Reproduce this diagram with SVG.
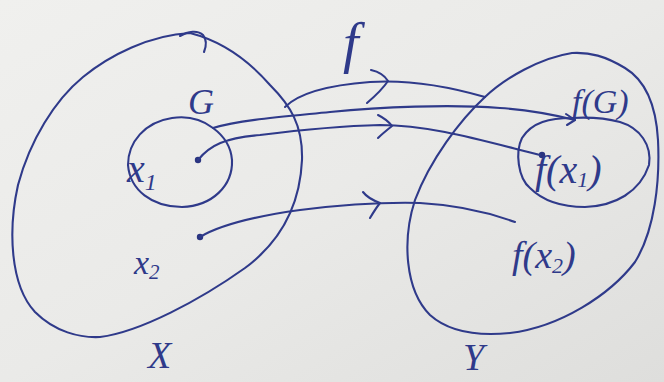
<svg xmlns="http://www.w3.org/2000/svg" width="664" height="382" viewBox="0 0 664 382">
  <defs>
    <linearGradient id="paper" x1="0" y1="0" x2="1" y2="1">
      <stop offset="0" stop-color="#f0f0ee"/>
      <stop offset="0.5" stop-color="#eaeae8"/>
      <stop offset="1" stop-color="#dededc"/>
    </linearGradient>
    <style>
      .ink { fill: none; stroke: #2f3a8a; stroke-width: 2.1; stroke-linecap: round; stroke-linejoin: round; }
      .dot { fill: #2a3480; }
      .lbl { fill: #2f3a8a; font-family: "Liberation Serif", serif; font-style: italic; }
    </style>
  </defs>
  <rect x="0" y="0" width="664" height="382" fill="url(#paper)"/>

  <g id="set-X">
    <path class="ink" d="M190,33 C150,35 110,55 83,77 C55,100 30,140 18,185 C8,230 10,285 35,312 C55,332 80,338 100,337 C140,332 200,300 245,268 C280,242 300,205 302,160 C303,125 290,105 270,85 C250,62 225,42 190,33"/>
    <path class="ink" d="M180,36 C188,31 198,30 203,35 C207,40 206,47 204,52"/>
    <text class="lbl" x="148" y="368" font-size="38">X</text>
  </g>

  <g id="set-G">
    <path class="ink" d="M213,128 C200,118 185,116 172,118 C145,122 128,142 128,165 C130,190 152,207 182,207 C212,206 233,186 232,160 C231,147 224,136 213,128"/>
    <text class="lbl" x="188" y="114" font-size="36">G</text>
  </g>

  <g id="point-x1">
    <circle class="dot" cx="198" cy="160" r="3.2"/>
    <text class="lbl" x="127" y="182" font-size="40">x<tspan font-size="24" dy="8">1</tspan></text>
  </g>

  <g id="point-x2">
    <circle class="dot" cx="200" cy="237" r="3.2"/>
    <text class="lbl" x="134" y="274" font-size="34">x<tspan font-size="21" dy="5">2</tspan></text>
  </g>

  <g id="set-Y">
    <path class="ink" d="M572,53 C540,58 505,78 485,97 C460,120 430,160 415,200 C402,240 405,290 430,315 C450,333 480,336 510,333 C560,327 610,295 635,262 C655,230 660,180 658,140 C656,105 645,80 625,68 C605,56 590,52 572,53"/>
    <text class="lbl" x="463" y="370" font-size="38">Y</text>
  </g>

  <g id="set-fG">
    <path class="ink" d="M572,118 C550,118 532,122 522,138 C515,152 518,178 530,188 C542,200 560,207 585,207 C615,206 640,192 649,165 C652,145 640,128 620,122 C605,118 590,117 572,118"/>
    <text class="lbl" x="572" y="113" font-size="34">f(G)</text>
  </g>

  <g id="point-fx1">
    <circle class="dot" cx="542" cy="155" r="3.2"/>
    <text class="lbl" x="535" y="183" font-size="40">f(x<tspan font-size="22" dy="4">1</tspan><tspan dy="-4">)</tspan></text>
  </g>

  <g id="point-fx2">
    <text class="lbl" x="512" y="268" font-size="38">f(x<tspan font-size="22" dy="5">2</tspan><tspan dy="-5">)</tspan></text>
  </g>

  <g id="label-f">
    <text class="lbl" x="343" y="62" font-size="56">f</text>
  </g>

  <g id="connectors">
    <path class="ink" d="M285,107 C300,92 330,85 370,82 C400,80 440,84 485,97"/>
    <path class="ink" d="M371,70 C380,72 385,76 388,81 C382,90 374,97 367,103"/>
    <path class="ink" d="M213,128 C240,120 280,117 330,112 C380,107 450,104 500,108 C530,110 555,115 575,120"/>
    <path class="ink" d="M566,114 L575,120 L567,125"/>
    <path class="ink" d="M198,160 C210,145 225,138 260,135 C300,130 340,126 380,125 C430,125 480,140 540,155"/>
    <path class="ink" d="M378,115 C384,118 389,122 392,126 C387,130 382,134 378,138"/>
    <path class="ink" d="M200,237 C220,225 250,217 300,210 C340,205 380,202 420,203 C460,205 490,213 515,222"/>
    <path class="ink" d="M363,192 C366,196 372,200 380,203 C376,208 373,213 370,218"/>
  </g>
</svg>
